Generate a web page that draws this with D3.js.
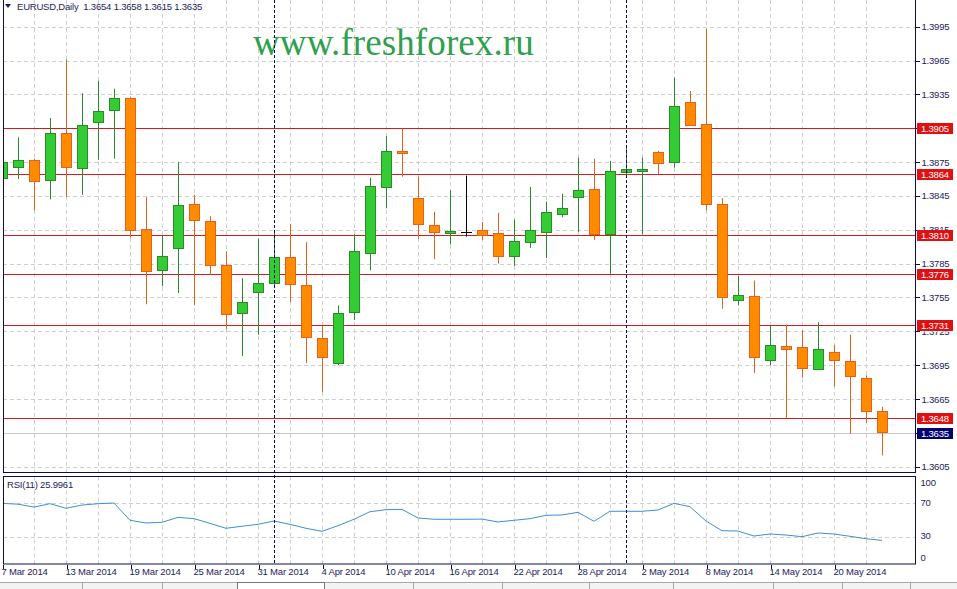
<!doctype html>
<html lang="en">
<head>
<meta charset="utf-8">
<title>EURUSD Daily</title>
<style>
  body { margin: 0; background: #fff; }
  svg text { font-family: "Liberation Sans", Arial, sans-serif; letter-spacing: -0.2px; }
  .axis path, .axis line { shape-rendering: crispEdges; }
</style>
</head>
<body>
<div id="chart"></div>
<script src="https://d3js.org/d3.v7.min.js"></script>
<script>
// ---- data ----
var open  = [1.3861,1.3871,1.3877,1.3859,1.3901,1.3870,1.3910,1.3921,1.3932,1.3816,1.3780,1.3799,1.3838,1.3823,1.3784,1.3741,1.3760,1.3768,1.3791,1.3766,1.3719,1.3697,1.3742,1.3795,1.3853,1.3885,1.3843,1.3819,1.3812,1.3813,1.3815,1.3812,1.3792,1.3804,1.3813,1.3829,1.3844,1.3851,1.3811,1.3866,1.3868,1.3884,1.3875,1.3928,1.3909,1.3838,1.3753,1.3756,1.3700,1.3712,1.3711,1.3691,1.3707,1.3699,1.3684,1.3654];
var high  = [1.3914,1.3897,1.3878,1.3914,1.3966,1.3936,1.3947,1.3940,1.3933,1.3844,1.3810,1.3875,1.3846,1.3827,1.3796,1.3772,1.3807,1.3815,1.3820,1.3804,1.3730,1.3748,1.3811,1.3861,1.3898,1.3905,1.3862,1.3831,1.3850,1.3863,1.3822,1.3830,1.3824,1.3853,1.3840,1.3847,1.3879,1.3878,1.3876,1.3888,1.3879,1.3885,1.3950,1.3938,1.3993,1.3843,1.3774,1.3770,1.3730,1.3731,1.3726,1.3733,1.3713,1.3722,1.3686,1.3658];
var low   = [1.3850,1.3860,1.3832,1.3842,1.3844,1.3846,1.3877,1.3878,1.3808,1.3749,1.3765,1.3759,1.3748,1.3775,1.3727,1.3703,1.3722,1.3765,1.3751,1.3697,1.3671,1.3695,1.3735,1.3779,1.3834,1.3862,1.3807,1.3789,1.3802,1.3809,1.3806,1.3785,1.3783,1.3799,1.3790,1.3826,1.3813,1.3806,1.3776,1.3862,1.3811,1.3864,1.3870,1.3907,1.3832,1.3745,1.3748,1.3688,1.3695,1.3648,1.3684,1.3691,1.3676,1.3634,1.3644,1.3615];
var close = [1.3875,1.3877,1.3858,1.3901,1.3871,1.3908,1.3920,1.3932,1.3815,1.3779,1.3792,1.3837,1.3824,1.3784,1.3741,1.3751,1.3768,1.3791,1.3767,1.3720,1.3702,1.3741,1.3796,1.3854,1.3885,1.3883,1.3820,1.3813,1.3814,1.3813,1.3811,1.3792,1.3805,1.3815,1.3831,1.3834,1.3850,1.3811,1.3867,1.3869,1.3869,1.3874,1.3925,1.3908,1.3838,1.3756,1.3757,1.3702,1.3713,1.3709,1.3692,1.3709,1.3700,1.3686,1.3655,1.3635];
var rsi   = [70.0,69.0,65.6,69.6,64.1,68.0,69.6,70.4,49.9,46.7,47.5,53.4,51.8,46.3,40.4,42.8,45.1,49.0,45.1,40.4,36.8,43.5,51.1,60.1,62.5,62.9,52.6,51.1,51.1,51.1,51.3,47.9,49.9,51.8,55.8,56.2,59.4,48.7,60.6,60.6,60.6,62.1,70.0,66.0,49.0,37.5,37.1,31.2,33.6,32.4,30.4,34.8,33.6,30.9,28.0,26.0];

var dateTickIdx    = [0,4,8,12,16,20,24,28,32,36,40,44,48,52];
var dateTickLabels = ['7 Mar 2014','13 Mar 2014','19 Mar 2014','25 Mar 2014','31 Mar 2014','4 Apr 2014','10 Apr 2014','16 Apr 2014','22 Apr 2014','28 Apr 2014','2 May 2014','8 May 2014','14 May 2014','20 May 2014'];
var monthStartIdx  = [17, 39];   // 1 Apr, 1 May
var priceTicks = ['1.3995','1.3965','1.3935','1.3905','1.3875','1.3845','1.3815','1.3785','1.3755','1.3725','1.3695','1.3665','1.3635','1.3605'];
var levels = ['1.3905','1.3864','1.3810','1.3776','1.3731','1.3648'];
var lastPrice = '1.3635';
var rsiTicks = [100, 70, 30, 0];
var rsiGrid = [70, 30];

var width = 957, height = 589;
var left = 3, right = 915;
var mainTop = 0, mainBottom = 472.5;
var rsiTop = 476.5, rsiBottom = 564;

var textColor = '#1c1c5c';
var frameColor = '#0c0c4c';
var gridColor = '#cfcfcf';
var levelColor = '#d41a1a';

var svg = d3.select('#chart').append('svg')
  .attr('width', width)
  .attr('height', height);

var n = close.length;
var x = d3.scaleLinear().domain([0, n - 1]).range([2, 2 + 16 * (n - 1)]);
var y = d3.scaleLinear().domain([1.3605, 1.3995]).range([466.7, 26.7]);
var yr = d3.scaleLinear().domain([0, 100]).range([562.3, 478.1]);

svg.append('clipPath').attr('id', 'clipMain')
  .append('rect').attr('x', left).attr('y', mainTop).attr('width', right - left).attr('height', mainBottom - mainTop);
svg.append('clipPath').attr('id', 'clipRsi')
  .append('rect').attr('x', left).attr('y', rsiTop).attr('width', right - left).attr('height', rsiBottom - rsiTop);

var vGrid = d3.range(2, n, 2);

// ---- main panel ----
var main = svg.append('g').attr('clip-path', 'url(#clipMain)');

main.append('g').selectAll('line')
  .data(priceTicks).enter().append('line')
  .attr('x1', left).attr('x2', right)
  .attr('y1', function(d){ return Math.round(y(+d)) + 0.5; })
  .attr('y2', function(d){ return Math.round(y(+d)) + 0.5; })
  .attr('stroke', gridColor).attr('stroke-dasharray', '4,3');

main.append('g').selectAll('line')
  .data(vGrid).enter().append('line')
  .attr('x1', function(d){ return Math.round(x(d)) + 0.5; })
  .attr('x2', function(d){ return Math.round(x(d)) + 0.5; })
  .attr('y1', mainTop).attr('y2', mainBottom)
  .attr('stroke', gridColor).attr('stroke-dasharray', '4,3');

// watermark
main.append('text')
  .attr('x', 253).attr('y', 55)
  .attr('fill', '#2fa04e')
  .style('font-family', '"Liberation Serif", "Times New Roman", serif')
  .style('font-size', '37px')
  .style('letter-spacing', '0.1px')
  .text('www.freshforex.ru');

// last price line
main.append('line')
  .attr('x1', left).attr('x2', right)
  .attr('y1', Math.round(y(+lastPrice)) + 0.5).attr('y2', Math.round(y(+lastPrice)) + 0.5)
  .attr('stroke', '#c8c8c8');

// level lines
main.append('g').selectAll('line')
  .data(levels).enter().append('line')
  .attr('x1', left).attr('x2', right)
  .attr('y1', function(d){ return Math.round(y(+d)) + 0.5; })
  .attr('y2', function(d){ return Math.round(y(+d)) + 0.5; })
  .attr('stroke', levelColor);

// candles
function bull(i){ return close[i] > open[i]; }
function bear(i){ return close[i] < open[i]; }
function wickCol(i){ return bull(i) ? '#2a8a2a' : (bear(i) ? '#e2621d' : '#000'); }

var idx = d3.range(n);
var candles = main.append('g');

candles.selectAll('line.wick')
  .data(idx).enter().append('line')
  .attr('class', 'wick')
  .attr('x1', function(i){ return Math.round(x(i)) + 0.5; })
  .attr('x2', function(i){ return Math.round(x(i)) + 0.5; })
  .attr('y1', function(i){ return y(high[i]); })
  .attr('y2', function(i){ return y(low[i]); })
  .attr('stroke', wickCol);

candles.selectAll('rect.body')
  .data(idx.filter(function(i){ return open[i] !== close[i]; })).enter().append('rect')
  .attr('class', 'body')
  .attr('x', function(i){ return Math.round(x(i)) - 4.5; })
  .attr('width', 10)
  .attr('y', function(i){ return Math.round(y(Math.max(open[i], close[i]))) + 0.5; })
  .attr('height', function(i){ return Math.max(2, Math.round(Math.abs(y(open[i]) - y(close[i])))); })
  .attr('fill', function(i){ return bull(i) ? '#33cc33' : '#ff8c00'; })
  .attr('stroke', wickCol);

candles.selectAll('line.doji')
  .data(idx.filter(function(i){ return open[i] === close[i]; })).enter().append('line')
  .attr('class', 'doji')
  .attr('x1', function(i){ return Math.round(x(i)) - 5; })
  .attr('x2', function(i){ return Math.round(x(i)) + 6; })
  .attr('y1', function(i){ return Math.round(y(open[i])) + 0.5; })
  .attr('y2', function(i){ return Math.round(y(open[i])) + 0.5; })
  .attr('stroke', '#000');

// ---- RSI panel ----
var sub = svg.append('g').attr('clip-path', 'url(#clipRsi)');

sub.append('g').selectAll('line')
  .data(rsiGrid).enter().append('line')
  .attr('x1', left).attr('x2', right)
  .attr('y1', function(d){ return Math.round(yr(d)) + 0.5; })
  .attr('y2', function(d){ return Math.round(yr(d)) + 0.5; })
  .attr('stroke', gridColor).attr('stroke-dasharray', '4,3');

sub.append('g').selectAll('line')
  .data(vGrid).enter().append('line')
  .attr('x1', function(d){ return Math.round(x(d)) + 0.5; })
  .attr('x2', function(d){ return Math.round(x(d)) + 0.5; })
  .attr('y1', rsiTop).attr('y2', rsiBottom)
  .attr('stroke', gridColor).attr('stroke-dasharray', '4,3');

sub.append('path')
  .datum(rsi)
  .attr('fill', 'none')
  .attr('stroke', '#3d8fd6')
  .attr('stroke-width', 1)
  .attr('d', d3.line().x(function(d, i){ return x(i); }).y(function(d){ return yr(d); }));

// month separators through both panels
svg.append('g').selectAll('line')
  .data(monthStartIdx).enter().append('line')
  .attr('x1', function(i){ return Math.round(x(i)) + 0.5; })
  .attr('x2', function(i){ return Math.round(x(i)) + 0.5; })
  .attr('y1', 0).attr('y2', rsiBottom)
  .attr('stroke', '#0a0a60').attr('stroke-dasharray', '3,2');

// frames
svg.append('rect')
  .attr('x', left + 0.5).attr('y', -1)
  .attr('width', right - left).attr('height', mainBottom + 1)
  .attr('fill', 'none').attr('stroke', frameColor);
svg.append('rect')
  .attr('x', left + 0.5).attr('y', rsiTop)
  .attr('width', right - left).attr('height', rsiBottom - rsiTop)
  .attr('fill', 'none').attr('stroke', frameColor);

// ---- price axis (labels covered by a level box are left out, as in the terminal) ----
var covered = function(t){
  return levels.concat([lastPrice]).some(function(l){ return Math.abs(y(+l) - y(+t)) < 11; });
};
var yAxis = d3.axisRight(y)
  .tickValues(priceTicks.map(Number))
  .tickSize(4)
  .tickPadding(2)
  .tickFormat(d3.format('.4f'));

var ya = svg.append('g')
  .attr('class', 'axis')
  .attr('transform', 'translate(' + (right + 0.5) + ',0)')
  .call(yAxis);
ya.select('.domain').remove();
ya.selectAll('line').attr('stroke', frameColor);
ya.selectAll('text').attr('fill', textColor).style('font-size', '9.5px');

// partly hidden labels: keep only the strip that shows outside the box
ya.selectAll('.tick').each(function(d){
  var t = d3.format('.4f')(d);
  if (levels.indexOf(t) >= 0 || t === lastPrice) {
    d3.select(this).select('text').remove();
  } else if (covered(t)) {
    var lv = levels.filter(function(l){ return Math.abs(y(+l) - y(d)) < 11; })[0];
    var above = y(d) < y(+lv);
    var boxTop = Math.round(y(+lv)) - 5;
    d3.select(this).select('text').remove();
    var g = d3.select(this);
    var cid = 'clip' + t.replace('.', '');
    var dy = above ? (boxTop - y(d)) : (boxTop + 11 - y(d));
    svg.append('clipPath').attr('id', cid).append('rect')
      .attr('x', 0).attr('width', 40)
      .attr('y', above ? -8 : dy).attr('height', above ? (dy + 8) : (8 - dy));
    g.append('text')
      .attr('clip-path', 'url(#' + cid + ')')
      .attr('x', 6).attr('dy', '0.32em')
      .attr('fill', textColor).style('font-size', '9.5px')
      .attr('text-anchor', 'start')
      .text(t);
  }
});

// level labels
var lab = svg.append('g').selectAll('g')
  .data(levels).enter().append('g')
  .attr('transform', function(d){ return 'translate(917,' + (Math.round(y(+d)) - 5) + ')'; });
lab.append('rect').attr('width', 36).attr('height', 11).attr('fill', '#e01010');
lab.append('text').attr('x', 4).attr('y', 9).attr('fill', '#fff').style('font-size', '9.5px')
  .text(function(d){ return d; });

var lp = svg.append('g')
  .attr('transform', 'translate(917,' + (Math.round(y(+lastPrice)) - 5) + ')');
lp.append('rect').attr('width', 36).attr('height', 11).attr('fill', '#000070');
lp.append('text').attr('x', 4).attr('y', 9).attr('fill', '#fff').style('font-size', '9.5px').text(lastPrice);

// ---- RSI axis ----
var rAxis = d3.axisRight(yr).tickValues(rsiTicks).tickSize(0).tickPadding(5);
var ra = svg.append('g')
  .attr('class', 'axis')
  .attr('transform', 'translate(' + (right + 0.5) + ',0)')
  .call(rAxis);
ra.select('.domain').remove();
ra.selectAll('text').attr('fill', textColor).style('font-size', '9.5px')
  .attr('dy', function(d){ return d === 100 ? '0.32em' : (d === 0 ? '-0.2em' : '0.2em'); })
  .attr('transform', function(d){ return d === 100 ? 'translate(0,4.5)' : ''; });

// ---- date axis ----
var xAxis = d3.axisBottom(x)
  .tickValues(dateTickIdx)
  .tickSize(4)
  .tickPadding(0)
  .tickFormat(function(d){ return dateTickLabels[dateTickIdx.indexOf(d)]; });

var xa = svg.append('g')
  .attr('class', 'axis')
  .attr('transform', 'translate(0,' + (rsiBottom + 0.5) + ')')
  .call(xAxis);
xa.select('.domain').remove();
xa.selectAll('line').attr('stroke', frameColor).attr('transform', 'translate(0.5,0)');
xa.selectAll('text').attr('fill', textColor).style('font-size', '9.5px')
  .attr('text-anchor', 'start').attr('dx', '-1');

// ---- labels ----
svg.append('path')
  .attr('d', 'M5,4 L11,4 L8,8 Z')
  .attr('fill', textColor);
svg.append('text')
  .attr('x', 17).attr('y', 10)
  .attr('fill', textColor).style('font-size', '9.5px')
  .attr('xml:space', 'preserve')
  .text('EURUSD,Daily  1.3654 1.3658 1.3615 1.3635');

svg.append('text')
  .attr('x', 7).attr('y', 488)
  .attr('fill', textColor).style('font-size', '9.5px')
  .text('RSI(11) 25.9961');

// ---- bottom tab bar ----
var bar = svg.append('g');
bar.append('rect').attr('x', 0).attr('y', 582).attr('width', width).attr('height', 7).attr('fill', '#f3f3f3');
bar.append('line').attr('x1', 0).attr('x2', width).attr('y1', 582.5).attr('y2', 582.5).attr('stroke', '#a8a8a8');
bar.append('rect').attr('x', 237.5).attr('y', 582.5).attr('width', 87).attr('height', 7).attr('fill', '#fff').attr('stroke', '#777');
bar.selectAll('line.sep')
  .data([82, 162, 413, 502, 589, 673, 773, 842, 910]).enter().append('line')
  .attr('x1', function(d){ return d + 0.5; }).attr('x2', function(d){ return d + 0.5; })
  .attr('y1', 583).attr('y2', 589).attr('stroke', '#a8a8a8');
</script>
</body>
</html>
